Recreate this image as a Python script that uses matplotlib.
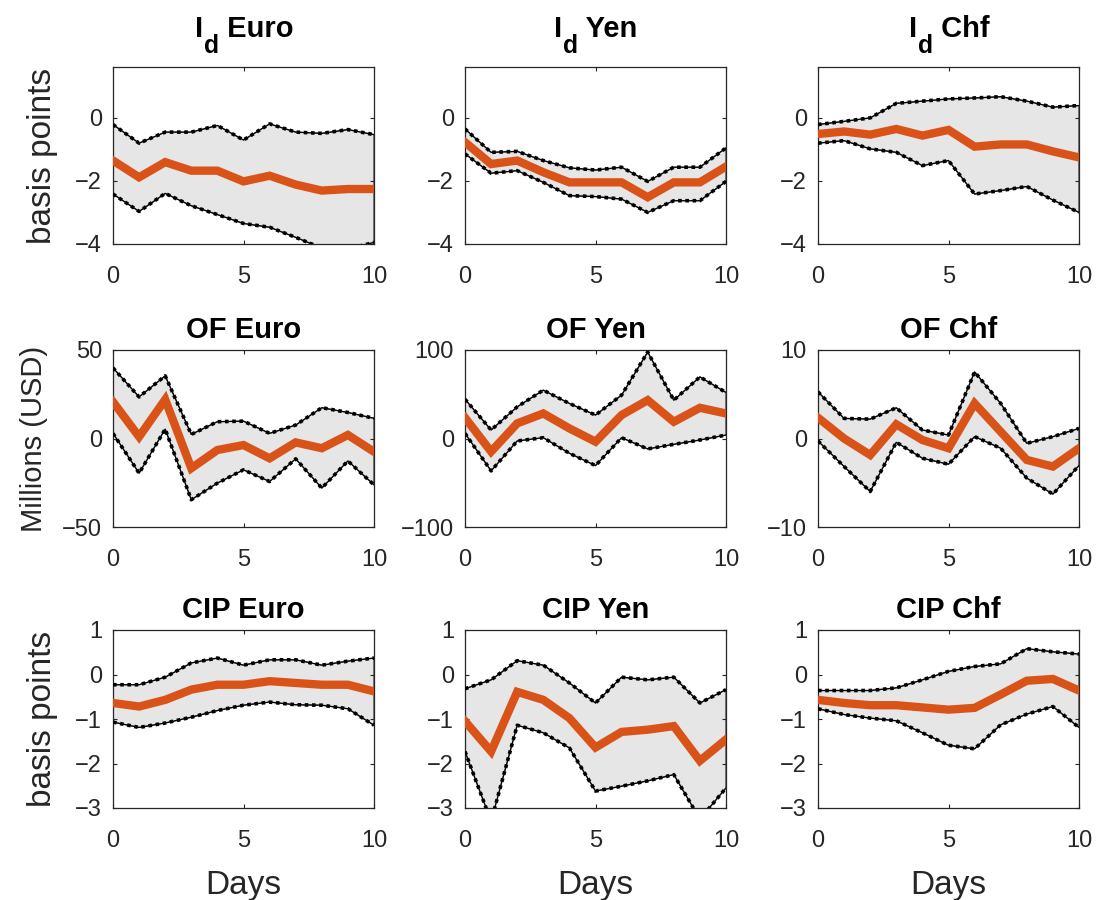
import numpy as np
import matplotlib
matplotlib.use("Agg")
import matplotlib.pyplot as plt

plt.rcParams['font.family'] = ['Liberation Sans', 'DejaVu Sans']

days = list(range(11))

row_names = ["I", "OF", "CIP"]
row_subs = ["d", "", ""]
currencies = ["Euro", "Yen", "Chf"]

# Row 1: I_d
id_euro_med = [-1.36, -1.89, -1.41, -1.68, -1.68, -2.02, -1.84, -2.12, -2.31, -2.26, -2.26]
id_euro_hi = [-0.22, -0.81, -0.46, -0.46, -0.25, -0.71, -0.20, -0.46, -0.50, -0.38, -0.54]
id_euro_lo = [-2.42, -2.97, -2.40, -2.79, -3.07, -3.35, -3.47, -3.79, -4.13, -4.16, -3.95]

id_yen_med = [-0.78, -1.47, -1.36, -1.73, -2.05, -2.05, -2.05, -2.52, -2.05, -2.05, -1.55]
id_yen_hi = [-0.36, -1.10, -1.07, -1.36, -1.59, -1.66, -1.57, -2.02, -1.57, -1.57, -0.96]
id_yen_lo = [-1.15, -1.76, -1.68, -2.05, -2.47, -2.50, -2.58, -3.00, -2.63, -2.63, -2.02]

id_chf_med = [-0.52, -0.44, -0.54, -0.36, -0.57, -0.39, -0.92, -0.85, -0.85, -1.07, -1.26]
id_chf_hi = [-0.22, -0.12, -0.01, 0.45, 0.52, 0.59, 0.62, 0.66, 0.52, 0.33, 0.38]
id_chf_lo = [-0.81, -0.73, -0.99, -1.10, -1.52, -1.36, -2.42, -2.31, -2.18, -2.61, -3.00]

# Row 2: OF
of_euro_med = [20.7, 1.0, 22.0, -16.8, -6.5, -3.7, -11.2, -2.2, -5.5, 2.0, -7.5]
of_euro_hi = [39.9, 23.5, 35.4, 2.3, 9.5, 9.8, 2.9, 7.6, 17.4, 14.7, 11.4]
of_euro_lo = [2.9, -19.6, 5.3, -34.6, -25.2, -17.7, -24.3, -11.5, -28.0, -12.7, -26.2]

of_yen_med = [23.5, -14.8, 17.1, 28.3, 11.4, -3.6, 26.5, 43.3, 18.9, 34.7, 28.3]
of_yen_hi = [44.4, 9.6, 35.8, 54.6, 39.6, 26.5, 49.0, 97.7, 43.3, 69.6, 52.0]
of_yen_lo = [5.8, -36.6, -2.8, 0.9, -16.7, -30.6, 0.9, -11.8, -6.6, -1.7, 3.9]

of_chf_med = [2.35, 0.0, -1.86, 1.60, -0.17, -1.10, 3.96, 0.77, -2.42, -3.17, -1.10]
of_chf_hi = [5.27, 2.27, 2.19, 3.47, 0.96, 0.39, 7.52, 3.96, -0.54, 0.21, 1.14]
of_chf_lo = [-0.28, -3.17, -5.99, -0.43, -2.23, -2.91, 0.21, -1.10, -4.48, -6.28, -3.06]

# Row 3: CIP
cip_euro_med = [-0.64, -0.72, -0.57, -0.34, -0.23, -0.23, -0.15, -0.19, -0.23, -0.23, -0.38]
cip_euro_hi = [-0.23, -0.23, -0.06, 0.26, 0.37, 0.21, 0.33, 0.33, 0.21, 0.30, 0.37]
cip_euro_lo = [-1.07, -1.19, -1.09, -0.96, -0.81, -0.69, -0.62, -0.68, -0.69, -0.77, -1.14]

cip_yen_med = [-1.05, -1.73, -0.39, -0.57, -0.98, -1.64, -1.29, -1.24, -1.16, -1.94, -1.46]
cip_yen_hi = [-0.32, -0.12, 0.31, 0.21, -0.19, -0.64, -0.06, -0.12, -0.06, -0.64, -0.34]
cip_yen_lo = [-1.73, -3.30, -1.14, -1.31, -1.65, -2.62, -2.51, -2.39, -2.25, -3.25, -2.55]

cip_chf_med = [-0.57, -0.64, -0.69, -0.69, -0.74, -0.79, -0.75, -0.45, -0.14, -0.10, -0.36]
cip_chf_hi = [-0.36, -0.36, -0.36, -0.30, -0.12, 0.07, 0.18, 0.24, 0.58, 0.51, 0.46]
cip_chf_lo = [-0.77, -0.90, -0.98, -1.04, -1.31, -1.59, -1.67, -1.13, -0.89, -0.72, -1.19]

series = [
    (id_euro_med, id_euro_lo, id_euro_hi), (id_yen_med, id_yen_lo, id_yen_hi), (id_chf_med, id_chf_lo, id_chf_hi),
    (of_euro_med, of_euro_lo, of_euro_hi), (of_yen_med, of_yen_lo, of_yen_hi), (of_chf_med, of_chf_lo, of_chf_hi),
    (cip_euro_med, cip_euro_lo, cip_euro_hi), (cip_yen_med, cip_yen_lo, cip_yen_hi), (cip_chf_med, cip_chf_lo, cip_chf_hi),
]

ylims = [(-4, 1.6), (-4, 1.6), (-4, 1.6),
         (-50, 50), (-100, 100), (-10, 10),
         (-3, 1), (-3, 1), (-3, 1)]
yticks = [[-4, -2, 0], [-4, -2, 0], [-4, -2, 0],
          [-50, 0, 50], [-100, 0, 100], [-10, 0, 10],
          [-3, -2, -1, 0, 1], [-3, -2, -1, 0, 1], [-3, -2, -1, 0, 1]]
xticks = [0, 5, 10]

fig = plt.figure(figsize=(10.99, 9.0), dpi=100)
W, H = 1099, 900
lefts = [113, 465, 818]
tops = [67, 350, 630]
bottoms = [244, 527, 808]
aw = 261

txt = '#262626'
orange = '#D95319'
TFS = 21

renderer = fig.canvas.get_renderer()

def px(xp, yp):
    return xp / W, 1 - yp / H

for i in range(9):
    r, c = divmod(i, 3)
    ah = bottoms[r] - tops[r]
    ax = fig.add_axes([lefts[c] / W, 1 - bottoms[r] / H, aw / W, ah / H])
    med, lo, hi = series[i]
    x = np.array(days, dtype=float)
    lo = np.array(lo); hi = np.array(hi)
    ax.fill(np.r_[x, x[::-1]], np.r_[lo, hi[::-1]], facecolor='#e6e6e6', edgecolor='#505050', lw=1.0, zorder=1)
    for b in (lo, hi):
        ax.plot(x, b, color='black', lw=0.8, zorder=2)
        ax.plot(x, b, color='black', lw=2.6, linestyle=(0, (1.0, 1.0)), zorder=3)
    ax.plot(x, med, color=orange, lw=6.0, zorder=4, solid_joinstyle='miter')
    ax.set_xlim(0, 10)
    ax.set_ylim(*ylims[i])
    ax.set_xticks(xticks)
    ax.set_yticks(yticks[i])
    ax.tick_params(direction='in', top=True, right=True, length=3, width=0.8,
                   labelsize=17, colors=txt)
    ax.tick_params(axis='x', pad=16)
    ax.tick_params(axis='y', pad=8)
    for s in ax.spines.values():
        s.set_color('#262626')
        s.set_linewidth(0.9)

    # title (with MATLAB-style large, low subscript for I_d)
    cx = lefts[c] + aw / 2
    name, sub, cur = row_names[r], row_subs[r], currencies[c]
    if sub:
        base_y = tops[r] - 30
        t1 = fig.text(0, 0, name, fontsize=TFS, fontweight='bold', color='black')
        t2 = fig.text(0, 0, sub, fontsize=TFS * 0.85, fontweight='bold', color='black')
        t3 = fig.text(0, 0, " " + cur, fontsize=TFS, fontweight='bold', color='black')
        w1 = t1.get_window_extent(renderer).width
        w2 = t2.get_window_extent(renderer).width
        w3 = t3.get_window_extent(renderer).width
        x0 = cx - (w1 + w2 + w3) / 2
        t1.set_position(px(x0, base_y)); t1.set_va('baseline')
        t2.set_position(px(x0 + w1 + 1, base_y + 16)); t2.set_va('baseline')
        t3.set_position(px(x0 + w1 + w2 + 1, base_y)); t3.set_va('baseline')
    else:
        fig.text(*px(cx, tops[r] - 12), name + " " + cur, fontsize=TFS, fontweight='bold',
                 ha='center', va='baseline', color='black')

    if c == 0:
        if r == 1:
            ax.set_ylabel('Millions (USD)', fontsize=21, color=txt)
            ax.yaxis.set_label_coords((48 - 113) / aw, 0.5)
        else:
            ax.set_ylabel('basis points', fontsize=24, color=txt)
            ax.yaxis.set_label_coords((58 - 113) / aw, 0.5)
    if r == 2:
        ax.set_xlabel('Days', fontsize=24, color=txt)
        ax.xaxis.set_label_coords(0.5, -(870 - 808) / ah)

fig.savefig('out.png', dpi=100)
